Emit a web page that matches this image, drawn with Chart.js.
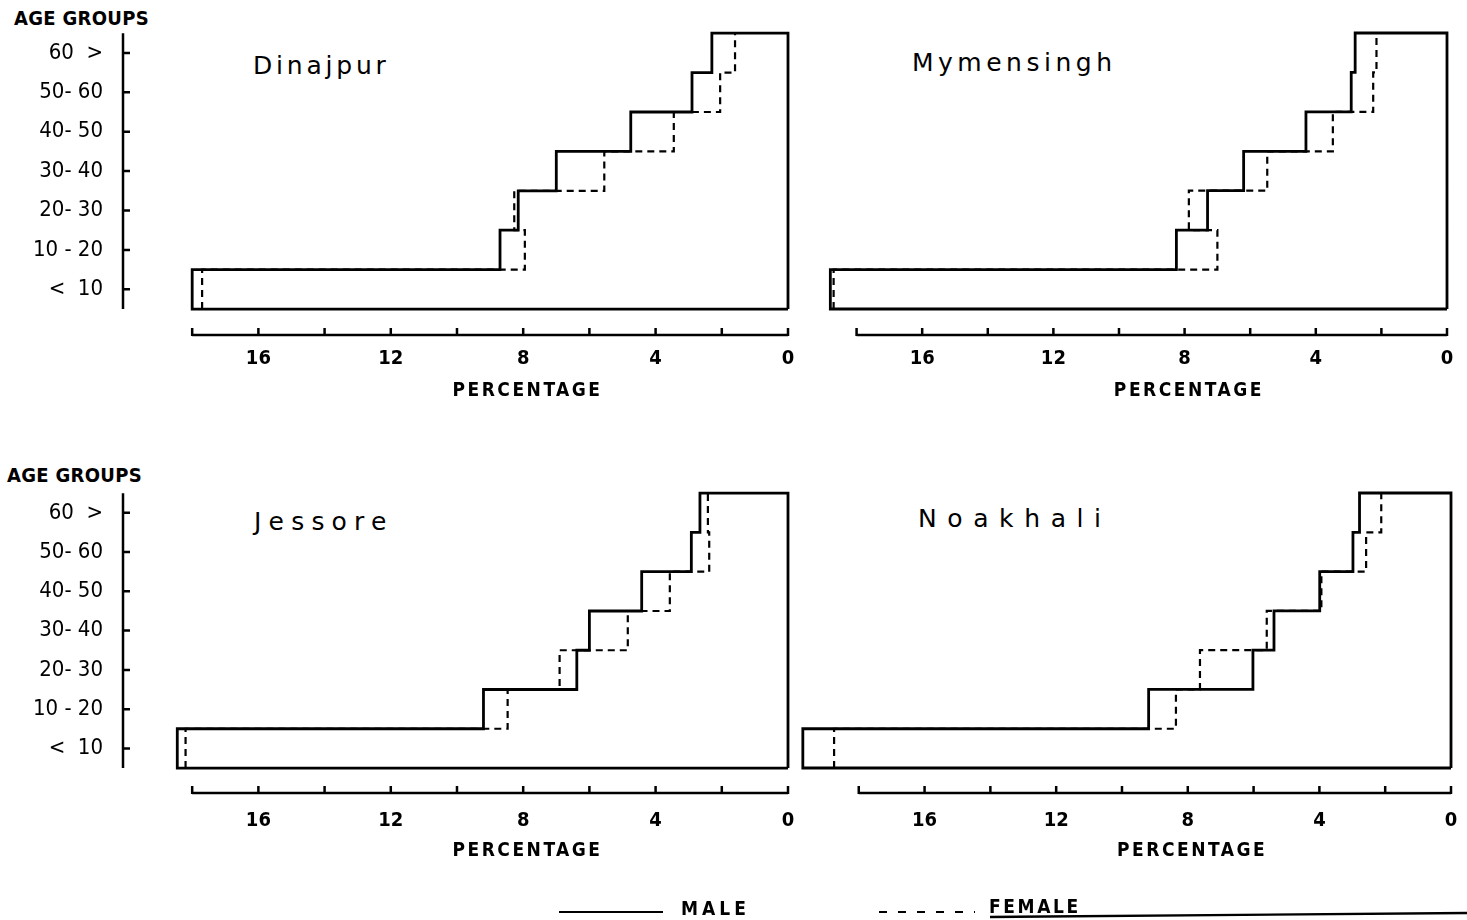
<!DOCTYPE html>
<html>
<head>
<meta charset="utf-8">
<script src="https://cdn.jsdelivr.net/npm/chart.js@4.4.1/dist/chart.umd.min.js"></script>
<style>
  html, body { margin: 0; padding: 0; background: #fff; }
  body { width: 1467px; height: 920px; position: relative; overflow: hidden;
         font-family: "DejaVu Sans Condensed", "DejaVu Sans", sans-serif; color: #000; }
  canvas { position: absolute; }
  .lbl { position: absolute; line-height: 1; white-space: nowrap; }
  .head { font-size: 20px; font-weight: bold; letter-spacing: 0.3px; }
  .name { font-family: "DejaVu Sans", sans-serif; font-size: 25px; }
  .key { font-size: 19px; font-weight: bold; letter-spacing: 4px; }
  svg { position: absolute; left: 0; top: 0; }
</style>
</head>
<body>
<div class="lbl head" style="left:14px;top:8px">AGE GROUPS</div>
<div class="lbl head" style="left:7px;top:465px">AGE GROUPS</div>

<div class="lbl name" style="left:253px;top:53px;letter-spacing:3.8px">Dinajpur</div>
<div class="lbl name" style="left:912px;top:50px;letter-spacing:4.5px">Mymensingh</div>
<div class="lbl name" style="left:254px;top:509px;letter-spacing:7.2px">Jessore</div>
<div class="lbl name" style="left:918px;top:506px;letter-spacing:10.6px">Noakhali</div>

<canvas id="c1" width="800" height="410" style="left:0;top:0"></canvas>
<canvas id="c2" width="687" height="410" style="left:780px;top:0"></canvas>
<canvas id="c3" width="800" height="410" style="left:0;top:460px"></canvas>
<canvas id="c4" width="687" height="410" style="left:780px;top:460px"></canvas>

<!-- legenda -->
<svg width="1467" height="920">
  <line x1="559" y1="912" x2="663" y2="912" stroke="#000" stroke-width="2.2"/>
  <line x1="879" y1="912" x2="975" y2="912" stroke="#000" stroke-width="2.2" stroke-dasharray="8 11"/>
  <line x1="990" y1="917" x2="1467" y2="913" stroke="#000" stroke-width="2.4"/>
</svg>
<div class="lbl key" style="left:681px;top:899px">MALE</div>
<div class="lbl key" style="left:989px;top:897px;letter-spacing:2.6px">FEMALE</div>

<script>
// Faixas etárias (de baixo para cima) e marcas do eixo x
const ageGroups = ["<  10", "10 - 20", "20- 30", "30- 40", "40- 50", "50- 60", "60  >"];
const xTickValues = [0, 2, 4, 6, 8, 10, 12, 14, 16, 18];
const xTickLabels = ["0", "", "4", "", "8", "", "12", "", "16", ""];

// Percentuais por faixa etária
const dinajpurMale     = [18.0, 8.7, 8.15, 7.0, 4.75, 2.9, 2.3];
const dinajpurFemale   = [17.7, 7.95, 8.27, 5.55, 3.45, 2.05, 1.6];
const mymensinghMale   = [18.8, 8.25, 7.3, 6.2, 4.3, 2.92, 2.8];
const mymensinghFemale = [18.7, 7.0, 7.87, 5.48, 3.48, 2.25, 2.15];
const jessoreMale      = [18.45, 9.2, 6.38, 6.0, 4.42, 2.92, 2.66];
const jessoreFemale    = [18.2, 8.47, 6.9, 4.84, 3.57, 2.38, 2.42];
const noakhaliMale     = [19.7, 9.19, 6.02, 5.38, 3.99, 2.98, 2.78];
const noakhaliFemale   = [18.75, 8.36, 7.63, 5.6, 3.94, 2.58, 2.12];

Chart.defaults.font.family = "'DejaVu Sans Condensed', 'DejaVu Sans', sans-serif";
Chart.defaults.color = "#000";

// Contorno fechado (homens): base, degraus, topo e lado do zero
const outline = (v) => {
  const pts = [{ x: 0, y: 0 }];
  v.forEach((val, i) => pts.push({ x: val, y: i }, { x: val, y: i + 1 }));
  pts.push({ x: 0, y: v.length }, { x: 0, y: 0 });
  return pts;
};
// Só os degraus (mulheres, tracejado)
const steps = (v) => v.flatMap((val, i) => [{ x: val, y: i }, { x: val, y: i + 1 }]);

// Desenha os eixos soltos da caixa, com marcas para dentro
const axesPlugin = {
  id: "eixos",
  afterDraw(chart, args, opts) {
    const { ctx, chartArea, scales: { x, y } } = chart;
    const base = chartArea.bottom;
    ctx.save();
    ctx.strokeStyle = "#000";
    ctx.lineWidth = 2.5;
    ctx.beginPath();
    ctx.moveTo(x.getPixelForValue(xTickValues[xTickValues.length - 1]), base);
    ctx.lineTo(x.getPixelForValue(0), base);
    xTickValues.forEach(v => {
      const px = x.getPixelForValue(v);
      ctx.moveTo(px, base + 1);
      ctx.lineTo(px, base - 7);
    });
    if (opts.yAxis) {
      const left = chartArea.left;
      ctx.moveTo(left, y.getPixelForValue(ageGroups.length));
      ctx.lineTo(left, y.getPixelForValue(0));
      ageGroups.forEach((g, i) => {
        const py = y.getPixelForValue(i + 0.5);
        ctx.moveTo(left, py);
        ctx.lineTo(left + 7, py);
      });
    }
    ctx.stroke();
    // título do eixo x, centrado perto do 8
    ctx.fillStyle = "#000";
    ctx.font = "bold 19px 'DejaVu Sans Condensed'";
    ctx.letterSpacing = "2.5px";
    ctx.textAlign = "center";
    ctx.fillText("PERCENTAGE", x.getPixelForValue(7.9) + 1, base + opts.titleOffset);
    ctx.restore();
  }
};

const panels = [
  { id: "c1", male: dinajpurMale, female: dinajpurFemale, yAxis: true,
    xMax: 20.09, yMin: -0.659, pad: { left: 0, right: 12, top: 33 }, xHeight: 75, tickPad: 12, titleOffset: 61 },
  { id: "c2", male: mymensinghMale, female: mymensinghFemale, yAxis: false,
    xMax: 19.42, yMin: -0.659, pad: { left: 30, right: 20, top: 33 }, xHeight: 75, tickPad: 12, titleOffset: 61 },
  { id: "c3", male: jessoreMale, female: jessoreFemale, yAxis: true,
    xMax: 20.09, yMin: -0.636, pad: { left: 0, right: 12, top: 33 }, xHeight: 77, tickPad: 16, titleOffset: 63 },
  { id: "c4", male: noakhaliMale, female: noakhaliFemale, yAxis: false,
    xMax: 20.09, yMin: -0.636, pad: { left: 10, right: 16, top: 33 }, xHeight: 77, tickPad: 16, titleOffset: 63 }
];

panels.forEach(p => {
  new Chart(document.getElementById(p.id), {
    type: "scatter",
    data: {
      datasets: [
        { label: "MALE", data: outline(p.male), showLine: true, borderColor: "#000",
          borderWidth: 2.8, pointRadius: 0, clip: false, borderJoinStyle: "miter" },
        { label: "FEMALE", data: steps(p.female), showLine: true, borderColor: "#000",
          borderWidth: 2.2, borderDash: [7, 5], pointRadius: 0, clip: false }
      ]
    },
    options: {
      responsive: false,
      animation: false,
      events: [],
      layout: { padding: { left: p.pad.left, right: p.pad.right, top: p.pad.top, bottom: 0 } },
      plugins: {
        legend: { display: false }, tooltip: { enabled: false },
        eixos: { yAxis: p.yAxis, titleOffset: p.titleOffset }
      },
      scales: {
        x: {
          type: "linear", reverse: true, min: 0, max: p.xMax,
          grid: { display: false, drawTicks: false }, border: { display: false },
          afterBuildTicks: s => { s.ticks = xTickValues.map(v => ({ value: v })); },
          ticks: { autoSkip: false, maxRotation: 0, padding: p.tickPad, font: { size: 20, weight: "bold" },
                   callback: (v, i) => xTickLabels[i] },
          afterFit: s => { s.height = p.xHeight; }
        },
        y: {
          type: "linear", min: p.yMin, max: ageGroups.length, display: p.yAxis,
          grid: { display: false, drawTicks: false }, border: { display: false },
          afterBuildTicks: s => { s.ticks = ageGroups.map((g, i) => ({ value: i + 0.5 })); },
          ticks: { padding: 20, font: { size: 22 }, callback: (v, i) => ageGroups[i] },
          afterFit: s => { s.width = p.yAxis ? 123 : 0; }
        }
      }
    },
    plugins: [axesPlugin]
  });
});
</script>
</body>
</html>
